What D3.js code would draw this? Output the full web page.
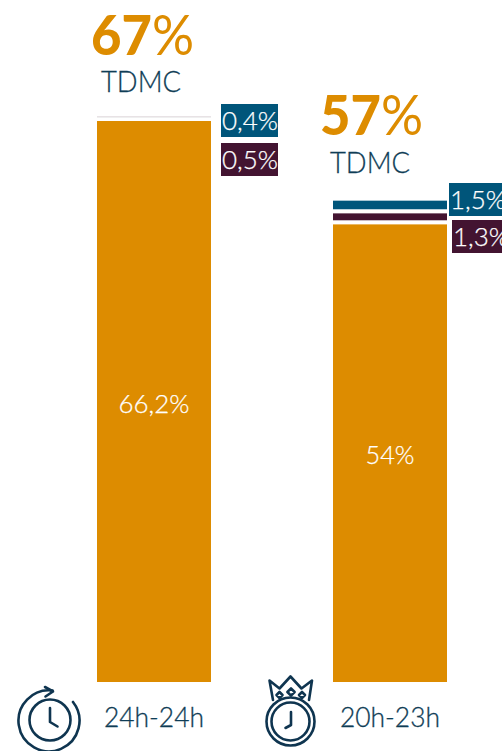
<!DOCTYPE html>
<html><head><meta charset="utf-8">
<script src="https://cdn.jsdelivr.net/npm/d3@7/dist/d3.min.js"></script>
<style>html,body{margin:0;padding:0;background:#fff}svg{display:block}text{font-family:Lato,"Open Sans",sans-serif;font-weight:300}</style>
</head><body><svg id="c" width="502" height="751"></svg>
<script>
const categories = ["24h-24h", "20h-23h"];
const totals = ["67%", "57%"];
const totalCaption = "TDMC";
const seriesNames = ["main", "second", "third"];
const mainValues = [66.2, 54];
const secondValues = [0.5, 1.3];
const thirdValues = [0.4, 1.5];
const mainLabels = ["66,2%", "54%"];
const secondLabels = ["0,5%", "1,3%"];
const thirdLabels = ["0,4%", "1,5%"];
const seriesColors = ["#DD8C00", "#431431", "#00557A"];
const inkColor = "#0F3D56";

const svg = d3.select("#c");
const rows = categories.map((c, i) => ({cat: c, main: mainValues[i], second: secondValues[i], third: thirdValues[i]}));
const stacked = d3.stack().keys(seriesNames)(rows);
const x = d3.scaleBand().domain(categories).range([97, 447]).paddingInner(0.517);
const y = d3.scaleLinear().domain([0, 66.2]).range([682, 121]);
const color = d3.scaleOrdinal(seriesNames, seriesColors);
const gap = 4.1;

// segments
stacked.forEach((s, si) => {
  svg.append("g").selectAll("rect").data(s).join("rect")
    .attr("x", d => x(d.data.cat)).attr("width", x.bandwidth())
    .attr("y", d => y(d[1]))
    .attr("height", d => Math.max(0, y(d[0]) - y(d[1]) - (si ? gap : 0)))
    .attr("fill", color(s.key));
});
// hairline left where a segment is thinner than the gap
svg.append("rect").attr("x", x(categories[0])).attr("width", x.bandwidth())
  .attr("y", y(mainValues[0] + secondValues[0])).attr("height", 1.2).attr("fill", "#EFEFEF");

// main labels
svg.append("g").selectAll("text").data(stacked[0]).join("text")
  .attr("x", d => x(d.data.cat) + x.bandwidth() / 2)
  .attr("y", d => (y(d[0]) + y(d[1])) / 2 + 11)
  .attr("text-anchor", "middle").attr("fill", "#fff").attr("stroke", "#fff").attr("stroke-width", 0.25).attr("font-size", 26)
  .attr("textLength", (d, i) => i ? 49 : 71).attr("lengthAdjust", "spacingAndGlyphs")
  .text((d, i) => mainLabels[i]);

// badges
const badgeX = [[221, 221], [452, 449]];
const badgeW = [57, 60];
function badges(labels, si, yOff) {
  labels.forEach((t, i) => {
    const top = yOff[i];
    const bx = badgeX[i][si];
    svg.append("rect").attr("x", bx).attr("y", top).attr("width", badgeW[i]).attr("height", 33).attr("fill", seriesColors[si + 1]);
    svg.append("text").attr("x", bx + 1).attr("y", top + 26).attr("fill", "#fff").attr("stroke", "#fff").attr("stroke-width", 0.25).attr("font-size", 26)
      .attr("textLength", 56).attr("lengthAdjust", "spacingAndGlyphs").text(t);
  });
}
badges(secondLabels, 0, [143, 220]);
badges(thirdLabels, 1, [104, 183]);

// totals: heavy digits, lighter percent sign in the same text
const totalX = [91, 320], totalBase = [55, 135], capBase = [92, 173];
totals.forEach((t, i) => {
  const tx = svg.append("text").attr("x", totalX[i]).attr("y", totalBase[i])
    .attr("fill", seriesColors[0]).attr("font-size", 56)
    .attr("textLength", 103).attr("lengthAdjust", "spacingAndGlyphs");
  tx.append("tspan").style("font-weight", 900).text(t.slice(0, -1));
  tx.append("tspan").style("font-weight", 400).text(t.slice(-1));
  svg.append("text").attr("x", totalX[i] + 50).attr("y", capBase[i]).attr("text-anchor", "middle")
    .attr("fill", inkColor).attr("stroke", inkColor).attr("stroke-width", 0.3).attr("font-size", 30)
    .attr("textLength", 80).attr("lengthAdjust", "spacingAndGlyphs").text(totalCaption);
});

// category labels
const catX = [154, 390];
categories.forEach((c, i) => {
  svg.append("text").attr("x", catX[i]).attr("y", 727).attr("text-anchor", "middle")
    .attr("fill", inkColor).attr("stroke", inkColor).attr("stroke-width", 0.3).attr("font-size", 27)
    .attr("textLength", 100).attr("lengthAdjust", "spacingAndGlyphs").text(c);
});

// icons
const icon = svg.append("g").attr("fill", "none").attr("stroke", "#0F3550").attr("stroke-width", 2.6)
  .attr("stroke-linecap", "round").attr("stroke-linejoin", "round");
icon.append("circle").attr("cx", 50).attr("cy", 720).attr("r", 20.5);
icon.append("path").attr("d", "M50 708V722L57.5 726.5");
icon.append("path").attr("d", "M73 702A30.5 30.5 0 1 1 52.5 690.5");
icon.append("path").attr("d", "M45 687L53 691.5L45.5 696.5");
icon.append("circle").attr("cx", 290.5).attr("cy", 721.5).attr("r", 24);
icon.append("circle").attr("cx", 290.5).attr("cy", 721.5).attr("r", 19);
icon.append("path").attr("d", "M291 712V725L285.5 728");
icon.append("path").attr("d", "M273 700L269.5 680.5L279.5 688.5L290.5 676.5L301.5 688.5L312 680.5L309 700");
[[279.5, 695, 3], [291, 692, 3.6], [302, 695, 3]].forEach(([cx, cy, r]) => {
  icon.append("path").attr("d", `M${cx} ${cy - r}L${cx + r} ${cy}L${cx} ${cy + r}L${cx - r} ${cy}Z`);
});
</script></body></html>
